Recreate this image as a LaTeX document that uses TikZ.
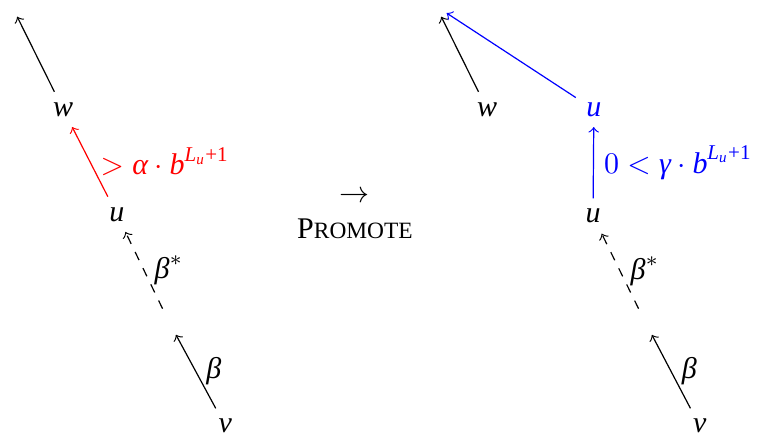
\documentclass[tikz,border=0pt]{standalone}
\usepackage{amsmath}
\usepackage{fontspec}
\setmainfont{Liberation Serif}
\newcommand{\vi}[1]{\textit{#1}}
\newcommand{\bpow}{\vi{b}^{\vi{L}_{\vi{u}}\text{+1}}}
\begin{document}
\begin{tikzpicture}[
    vert/.style={inner sep=3.33pt},
    gapnode/.style={circle, minimum size=0.33cm, inner sep=0pt},
    edge/.style={->, thin},
    lab/.style={midway, right},
]
\useasboundingbox (0,0) rectangle (8.954,5.122);
% before
\node[vert] (rootL) at (0.14,5.05) {};
\node[vert] (wL)    at (0.74,3.84) {\vi{w}};
\node[vert] (uL)    at (1.37,2.61) {\vi{u}};
\node[gapnode] (mL) at (1.98,1.35) {};
\node[vert] (vL)    at (2.64,0.13) {\vi{v}};
\draw[edge] (vL) -- node[lab] {\vi{β}} (mL);
\draw[edge, dashed] (mL) -- node[lab] {$\vi{β}^{*}$} (uL);
\draw[edge, red] (uL) -- node[lab] {$>\vi{α}\cdot\bpow$} (wL);
\draw[edge] (wL) -- (rootL);
% operation
\node[align=center] (op) at (4.16,2.60)
    {$\rightarrow$\\P{\fontsize{7.8pt}{9pt}\selectfont ROMOTE}};
% after
\node[vert] (rootR) at (5.11,5.05) {};
\node[vert] (wR)    at (5.71,3.84) {\vi{w}};
\node[vert, text=blue] (uR) at (6.96,3.84) {\vi{u}};
\node[vert] (uR2)   at (6.95,2.59) {\vi{u}};
\node[gapnode] (mR) at (7.56,1.35) {};
\node[vert] (vR)    at (8.20,0.13) {\vi{v}};
\draw[edge] (vR) -- node[lab] {\vi{β}} (mR);
\draw[edge, dashed] (mR) -- node[lab] {$\vi{β}^{*}$} (uR2);
\draw[edge, blue] (uR2) -- node[lab] {$0<\vi{γ}\cdot\bpow$} (uR);
\draw[edge] (wR) -- (rootR);
\draw[edge, blue] (uR) -- (rootR);
\end{tikzpicture}
\end{document}
